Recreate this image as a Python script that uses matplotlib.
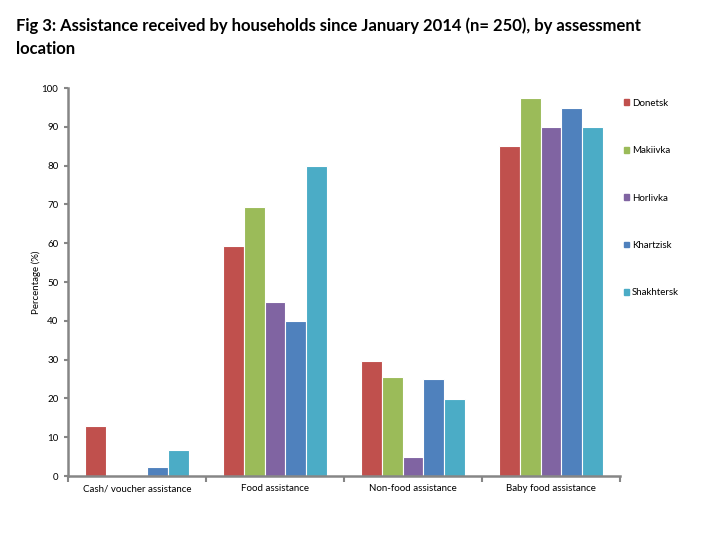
import numpy as np
import matplotlib
matplotlib.use('Agg')
import matplotlib.pyplot as plt
from matplotlib.patches import Patch

# data
categories = ['Cash/ voucher assistance', 'Food assistance', 'Non-food assistance', 'Baby food assistance']
locations = ['Donetsk', 'Makiivka', 'Horlivka', 'Khartzisk', 'Shakhtersk']
donetsk = [13, 59.3, 29.6, 85]
makiivka = [0, 69.3, 25.5, 97.4]
horlivka = [0, 44.8, 4.9, 90]
khartzisk = [2.3, 40, 25, 94.8]
shakhtersk = [6.7, 80, 19.8, 90]
colors = ['#C0504D', '#9BBB59', '#8064A2', '#4F81BD', '#4BACC6']

plt.rcParams['font.family'] = ['Lato', 'DejaVu Sans']

fig = plt.figure(figsize=(7.2, 5.4), dpi=100)
ax = fig.add_axes([68/720, 64/540, 552/720, 388/540])

x = np.arange(len(categories))
w = 0.152
series = [donetsk, makiivka, horlivka, khartzisk, shakhtersk]
for i, vals in enumerate(series):
    ax.bar(x + (i - 2) * w, vals, width=w, color=colors[i], edgecolor='white', linewidth=0.8)

ax.set_xlim(-0.5, 3.5)
ax.set_ylim(0, 100)
ax.set_yticks(range(0, 101, 10))
ax.set_xticks(x)
ax.set_xticklabels(categories, fontsize=7)
ax.set_xticks(np.arange(-0.5, 3.6, 1), minor=True)
ax.tick_params(axis='x', which='major', length=0, pad=6)
ax.tick_params(axis='x', which='minor', length=4, color='#868686', width=1.5)
ax.tick_params(axis='y', labelsize=7, length=3, color='#868686', width=1.5, pad=4)

for s in ['top', 'right']:
    ax.spines[s].set_visible(False)
for s in ['left', 'bottom']:
    ax.spines[s].set_color('#868686')
    ax.spines[s].set_linewidth(1.8)

ax.set_ylabel('Percentage (%)', fontsize=7)
ax.yaxis.set_label_coords(-27/552, 0.5)

handles = [Patch(color=c, label=l) for c, l in zip(colors, locations)]
fig.legend(handles=handles, loc='upper left', bbox_to_anchor=(615/720, 1 - 90/540),
           frameon=False, fontsize=7, handlelength=0.55, handleheight=0.55,
           handletextpad=0.3, labelspacing=3.95)

fig.text(16/720, 1 - 37/540, 'Fig 3: Assistance received by households since January 2014 (n= 250), by assessment\nlocation',
         fontsize=12, fontweight='bold', va='center', ha='left', linespacing=1.55)

fig.savefig('out.png', dpi=100)
